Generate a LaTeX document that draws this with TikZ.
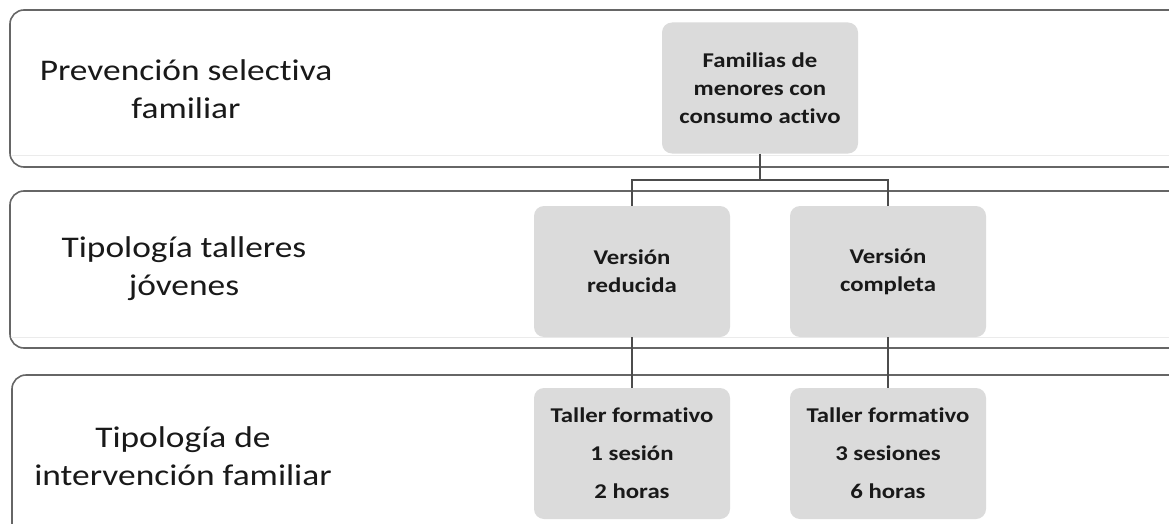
\documentclass[tikz,border=0pt]{standalone}
\usepackage{fontspec}
\setmainfont[FakeStretch=1.18,Ligatures=NoCommon]{Carlito}
\usetikzlibrary{positioning}

\begin{document}
\begin{tikzpicture}
  [x=1pt,y=-1pt,
   band/.style={draw=black!60,line width=1.6pt,rounded corners=14pt,fill=white},
   shade/.style={draw=black!8,line width=1pt},
   box/.style={fill=black!14,rounded corners=10pt,inner sep=0pt,
     minimum width=196pt,minimum height=131pt,align=center,text=black!90,
     font=\bfseries\fontsize{21}{28}\selectfont},
   lbl/.style={align=center,text=black!90,font=\fontsize{30}{38}\selectfont},
   link/.style={draw=black!70,line width=2.4pt}]
  \useasboundingbox (0,0) rectangle (1169,524);
  \clip (0,0) rectangle (1169,524);
  % bands
  \draw[band] (10,10) rectangle (1200,167);
  \draw[shade] (11,155) -- (1169,155);
  \draw[band] (10,191) rectangle (1200,348);
  \draw[shade] (11,337) -- (1169,337);
  \draw[band] (12,375) rectangle (1200,560);
  % labels
  \node[lbl] (lprev) at (186,89) {Prevención selectiva\\familiar};
  \node[lbl] (ltall) at (184,269) {Tipología talleres\\jóvenes};
  \node[lbl] (linte) at (183,456) {Tipología de\\intervención familiar};
  % boxes
  \node[box] (nfam) at (760,88) {Familias de\\menores con\\consumo activo};
  \node[box] (nred) at (632,271.5) {Versión\\reducida};
  \node[box] (ncom) at (888,271.5) {Versión\\completa};
  \node[box,font=\bfseries\fontsize{21}{38}\selectfont] (ntr) at (632,453.5)
    {Taller formativo\\1 sesión\\2 horas};
  \node[box,font=\bfseries\fontsize{21}{38}\selectfont] (ntc) at (888,453.5)
    {Taller formativo\\3 sesiones\\6 horas};
  \coordinate (njoin) at (760,180);
  % connectors
  \draw[link] (nfam.south) -- (njoin);
  \foreach \to in {nred,ncom}
    \draw[link] (njoin) -| (\to.north);
  \foreach \from/\to in {nred/ntr,ncom/ntc}
    \draw[link] (\from) -- (\to);
\end{tikzpicture}
\end{document}
